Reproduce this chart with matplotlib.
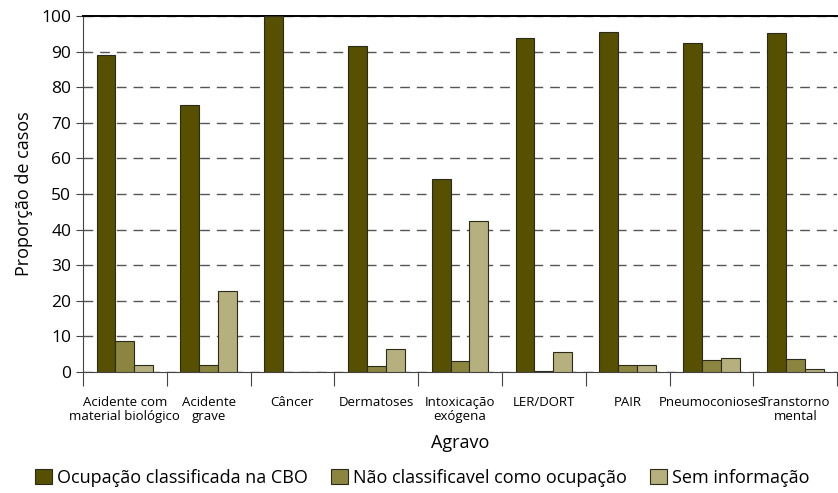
import matplotlib.pyplot as plt
import numpy as np

plt.rcParams['font.family'] = ['Open Sans', 'DejaVu Sans']

categorias = ["Acidente com\nmaterial biológico", "Acidente\ngrave", "Câncer", "Dermatoses",
              "Intoxicação\nexógena", "LER/DORT", "PAIR", "Pneumoconioses", "Transtorno\nmental"]
series = ["Ocupação classificada na CBO", "Não classificavel como ocupação", "Sem informação"]
cbo = [89.0, 74.9, 100.0, 91.6, 54.3, 93.7, 95.5, 92.3, 95.2]
nao_class = [8.8, 2.1, 0.0, 1.6, 3.1, 0.2, 2.1, 3.3, 3.6]
sem_info = [1.9, 22.7, 0.0, 6.5, 42.4, 5.7, 2.1, 3.8, 0.8]

cores = ['#565000', '#8b853f', '#b6b07e']

fig = plt.figure(figsize=(8.38, 4.93), dpi=100)
ax = fig.add_axes([0.099, 0.2454, 0.9, 0.722])

x = np.arange(len(categorias))
w = 0.225
for i, (vals, nome) in enumerate(zip([cbo, nao_class, sem_info], series)):
    ax.bar(x + (i - 1) * w, vals, width=w, color=cores[i], edgecolor='#2b2b1c',
           linewidth=0.8, label=nome, zorder=3)

ax.set_xlim(-0.5, len(categorias) - 0.5)
ax.set_ylim(0, 100)
ax.set_yticks(range(0, 101, 10))
ax.tick_params(axis='y', labelsize=12.5, length=5, width=0.8, color='#444')

# boundaries as major ticks, labels at centers as minor ticks
ax.set_xticks(np.arange(-0.5, len(categorias), 1))
ax.set_xticklabels([])
ax.set_xticks(x, minor=True)
ax.set_xticklabels(categorias, minor=True, fontsize=9.5, linespacing=1.15)
ax.tick_params(axis='x', which='major', length=10, width=0.8, color='#444')
ax.tick_params(axis='x', which='minor', length=0, pad=17)

ax.yaxis.grid(True, linestyle=(0, (7, 5)), color='#555555', linewidth=1.0, zorder=0)
ax.spines['right'].set_visible(False)
ax.spines['top'].set_linewidth(1.4)
ax.spines['left'].set_color('#444')
ax.spines['bottom'].set_color('#444')

ax.set_ylabel("Proporção de casos", fontsize=13, labelpad=6)
ax.set_xlabel("Agravo", fontsize=13, labelpad=8)

ax.legend(loc='center', bbox_to_anchor=(0.45, -0.298), ncol=3, frameon=False,
          fontsize=13, handlelength=0.9, handleheight=0.9, handletextpad=0.3,
          columnspacing=1.3)

fig.savefig("out.png", dpi=100)
